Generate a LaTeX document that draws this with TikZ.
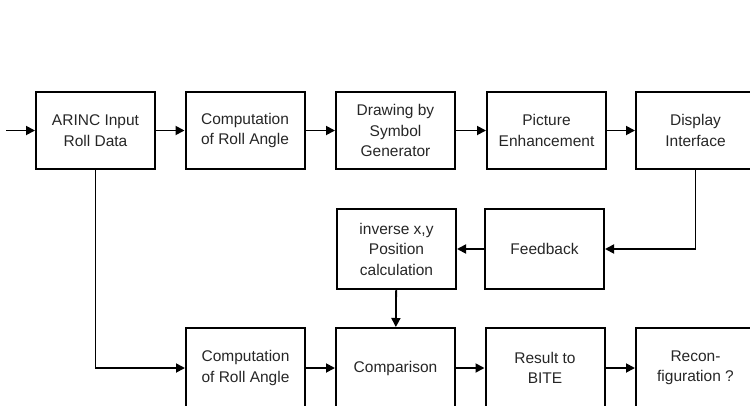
\documentclass[tikz,border=0pt]{standalone}
\usepackage{fontspec}
\setmainfont{Liberation Sans}
\usetikzlibrary{arrows.meta}
\begin{document}
\begin{tikzpicture}[x=1pt,y=-1pt,
  box/.style={draw, line width=2pt, minimum width=119pt, minimum height=77pt,
    inner sep=0pt, align=center, text=black!85, font=\fontsize{15.5}{20.5}\selectfont},
  mbox/.style={box, minimum height=80pt},
  arr/.style={line width=1.8pt, -{Triangle[length=9pt,width=9pt]}}]
\useasboundingbox (0,0) rectangle (750,405);
\clip (0,0) rectangle (750,405);
% top row
\node[box] (a1) at (95.5,130.5) {ARINC Input\\Roll Data};
\node[box] (a2) at (245,130.5) {Computation\\of Roll Angle};
\node[box] (a3) at (395.5,130.5) {Drawing by\\Symbol\\Generator};
\node[box] (a4) at (546.5,130.5) {Picture\\Enhancement};
\node[box] (a5) at (695.5,130.5) {Display\\Interface};
% middle row
\node[mbox] (inv) at (396.5,249) {inverse x,y\\Position\\calculation};
\node[mbox] (fb) at (544.5,249) {Feedback};
% bottom row
\node[mbox] (c2) at (245.5,368) {Computation\\of Roll Angle};
\node[mbox] (cmp) at (395.5,368) {Comparison};
\node[mbox] (res) at (545,368) {Result to\\BITE};
\node[mbox] (rec) at (695.5,368) {Recon-\\figuration ?};
% connectors
\coordinate (in) at (6,130.5);
\draw[arr] (in) -- (a1);
\draw[arr] (a1) -- (a2);
\draw[arr] (a2) -- (a3);
\draw[arr] (a3) -- (a4);
\draw[arr] (a4) -- (a5);
\draw[arr] (a5.south) |- (fb.east);
\draw[arr] (fb) -- (inv);
\draw[arr] (inv) -- (cmp);
\draw[arr] (a1.south) |- (c2.west);
\draw[arr] (c2) -- (cmp);
\draw[arr] (cmp) -- (res);
\draw[arr] (res) -- (rec);
\end{tikzpicture}
\end{document}
